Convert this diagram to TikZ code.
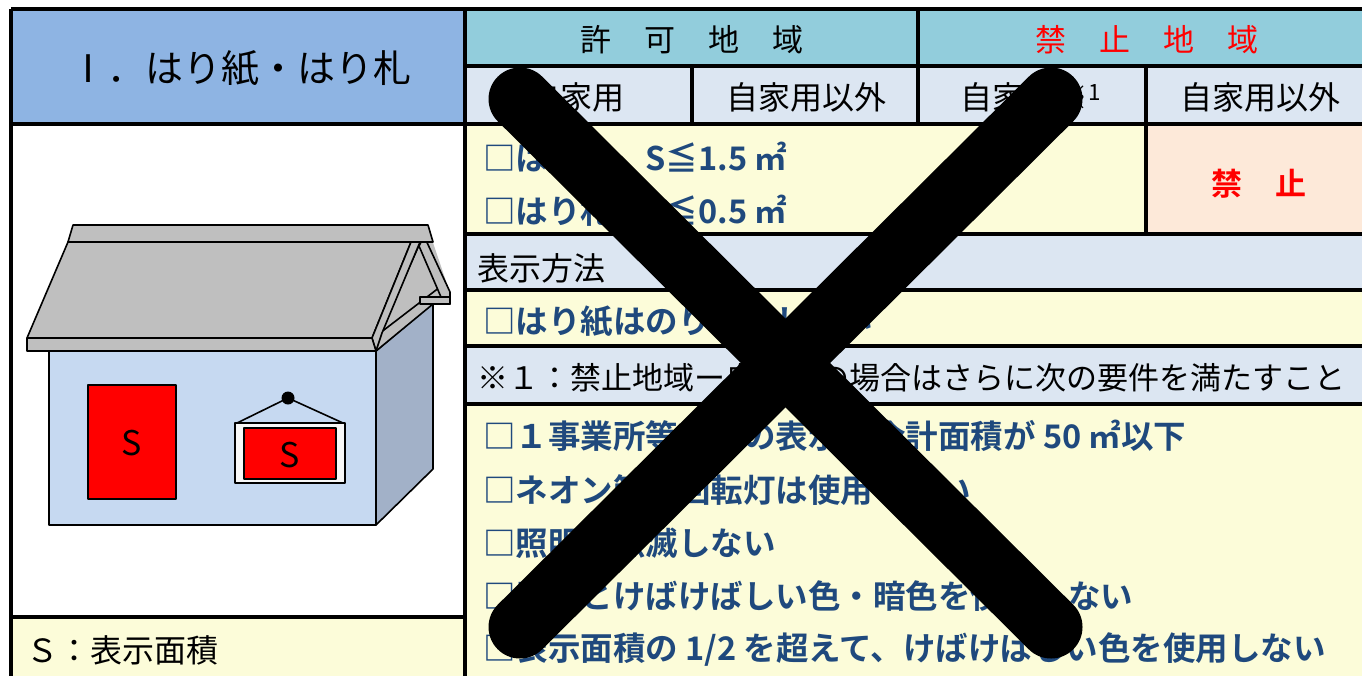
\documentclass[tikz,border=0pt]{standalone}
\usepackage{fontspec}
\setmainfont{Noto Sans CJK JP}[BoldFont={Noto Sans CJK JP Bold}]
\usetikzlibrary{positioning}
\definecolor{hdrblue}{RGB}{142,180,227}
\definecolor{hdrteal}{RGB}{146,205,220}
\definecolor{paleblue}{RGB}{220,230,242}
\definecolor{paleyellow}{RGB}{252,252,217}
\definecolor{palepink}{RGB}{253,233,217}
\definecolor{reqblue}{RGB}{31,73,125}
\definecolor{wallfront}{RGB}{198,217,241}
\definecolor{wallside}{RGB}{162,177,200}
\definecolor{roofgray}{RGB}{191,191,191}
\newcommand{\pxfont}[1]{\fontsize{#1}{#1}\selectfont}

\begin{document}
\begin{tikzpicture}[x=1pt,y=-1pt,
    gridline/.style={line width=3.5pt},
    txt/.style={inner sep=0pt, font=\pxfont{31}},
    req/.style={anchor=west, inner sep=0pt, text=reqblue, font=\pxfont{32.5}\bfseries},
    house/.style={draw=black, line width=1.6pt, line join=round}]
    \useasboundingbox (0,0) rectangle (1362,675);
    \clip (0,0) rectangle (1362,675);

    % cell fills
    \fill[hdrblue] (11,9) rectangle (465,124);
    \fill[white] (11,124) rectangle (465,617);
    \fill[paleyellow] (11,617) rectangle (465,690);
    \fill[hdrteal] (465,9) rectangle (1390,66);
    \fill[paleblue] (465,66) rectangle (1390,124);
    \fill[paleyellow] (465,124) rectangle (1146,234);
    \fill[palepink] (1146,124) rectangle (1390,234);
    \fill[paleblue] (465,234) rectangle (1390,290);
    \fill[paleyellow] (465,290) rectangle (1390,346);
    \fill[paleblue] (465,346) rectangle (1390,404);
    \fill[paleyellow] (465,404) rectangle (1390,690);

    % table lines
    \draw[gridline] (11,9) -- (1390,9);
    \draw[gridline] (11,9) -- (11,690);
    \draw[gridline] (465,9) -- (465,690);
    \draw[gridline] (11,124) -- (1390,124);
    \draw[gridline] (11,617) -- (465,617);
    \draw[gridline] (465,66) -- (1390,66);
    \draw[gridline] (918,9) -- (918,124);
    \draw[gridline] (692,66) -- (692,124);
    \draw[gridline] (1146,66) -- (1146,234);
    \draw[gridline] (465,234) -- (1390,234);
    \draw[gridline] (465,290) -- (1390,290);
    \draw[gridline] (465,346) -- (1390,346);
    \draw[gridline] (465,404) -- (1390,404);

    % headers
    \node[txt, font=\pxfont{38}] (title) at (240,68) {Ⅰ．はり紙・はり札};
    \node[txt] (permit) at (692,40) {許\hspace{33pt}可\hspace{33pt}地\hspace{33pt}域};
    \node[txt, text=red] (banned) at (1147,40) {禁\hspace{33pt}止\hspace{33pt}地\hspace{33pt}域};
    \node[txt, font=\pxfont{32}] (ownA) at (576,97) {自家用};
    \node[txt, font=\pxfont{32}] (otherA) at (806,97) {自家用以外};
    \node[txt, font=\pxfont{32}] (ownB) at (1031,97) {自家用※\textsuperscript{1}};
    \node[txt, font=\pxfont{32}] (otherB) at (1260,97) {自家用以外};

    % sizes
    \node[req] (paper) at (483,158) {□はり紙　S≦1.5 ㎡};
    \node[req] (board) at (483,211) {□はり札　S≦0.5 ㎡};
    \node[txt, text=red, font=\pxfont{31}\bfseries] (ban) at (1259,184) {禁\hspace{33pt}止};

    % method and note
    \node[txt, anchor=west, font=\pxfont{32}] (method) at (477,268) {表示方法};
    \node[req] (glue) at (483,322) {□はり紙はのり付けしない};
    \node[txt, anchor=west] (note) at (477,378) {※１：禁止地域ー自家用の場合はさらに次の要件を満たすこと};
    \foreach \n/\yy/\t in {1/436/{□１事業所等当りの表示の合計面積が 50 ㎡以下},
        2/490/{□ネオン管・回転灯は使用しない},
        3/543/{□照明は点滅しない},
        4/596/{□原色とけばけばしい色・暗色を使用しない},
        5/650/{□表示面積の 1/2 を超えて、けばけばしい色を使用しない}}
        \node[req] (cond\n) at (483,\yy) {\t};

    % legend
    \node[txt, anchor=west, font=\pxfont{32}] (legend) at (26,650) {Ｓ：表示面積};

    % house
    \draw[house, fill=wallside] (376,351) -- (433,303) -- (433,469) -- (376,525) -- cycle;
    \fill[roofgray] (418,243) -- (428,228) -- (450,293) -- (450,304) -- (433,304) -- (376,351) -- cycle;
    \draw[house] (433,304) -- (376,351);
    \draw[house, fill=roofgray] (420,243) -- (440,287) -- (380,333) -- cycle;
    \draw[house, fill=roofgray] (424,236) -- (450,292) -- (450,304) -- (444,304) -- (419,246) -- cycle;
    \draw[house, fill=roofgray] (420,297) -- (450,297) -- (450,304) -- (420,304) -- cycle;
    \draw[house, fill=wallfront] (49,351) rectangle (376,525);
    \draw[house, fill=roofgray] (68,242) -- (411,242) -- (372,338) -- (27,338) -- cycle;
    \draw[house, fill=roofgray] (411,242) -- (420,242) -- (382,333) -- (376,351) -- (372,338) -- cycle;
    \draw[house, fill=roofgray] (27,338) -- (372,338) -- (376,351) -- (27,351) -- cycle;
    \draw[house, fill=roofgray] (73,225) -- (428,225) -- (433,242) -- (68,242) -- cycle;

    % posters
    \draw[house, fill=red] (88,385) rectangle (176,499);
    \node[txt, font=\pxfont{34}] (sA) at (132,443) {S};
    \draw[house, fill=white!94!gray] (235,423) rectangle (345,483);
    \draw[house, fill=red] (244,428) rectangle (336,479);
    \node[txt, font=\pxfont{34}] (sB) at (290,455) {S};
    \fill (288,398) circle (6.5);
    \draw[house] (237,423) -- (288,398) -- (343,423);

    % cross
    \draw[line width=63pt, line cap=round] (520,99) -- (1051,627);
    \draw[line width=63pt, line cap=round] (1051,99) -- (520,627);
\end{tikzpicture}
\end{document}
